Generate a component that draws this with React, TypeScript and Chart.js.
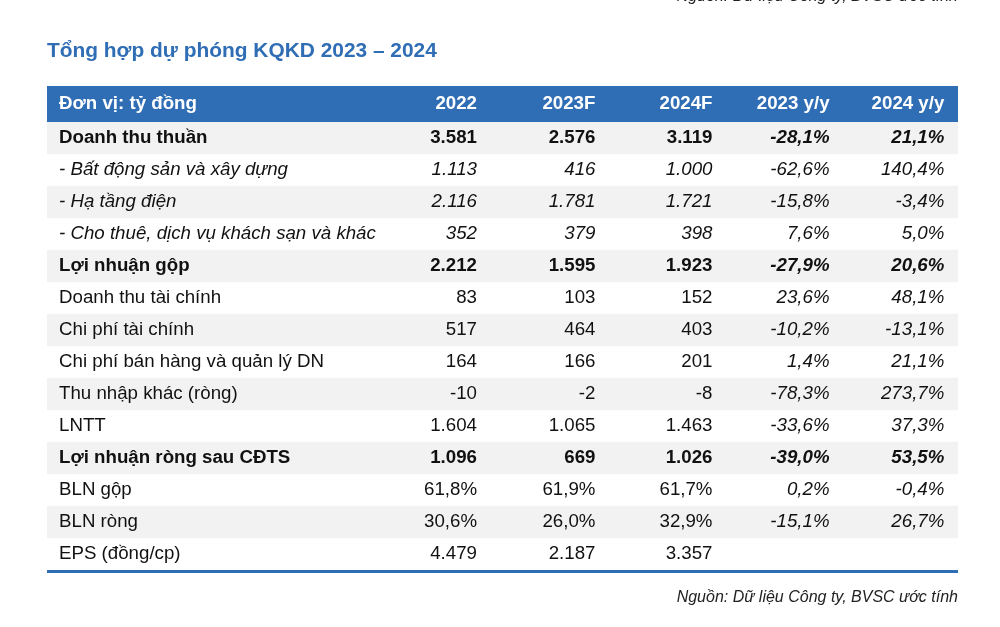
import React, { useEffect, useRef } from 'react';
import { Chart, registerables } from 'chart.js';

Chart.register(...registerables);

const titleText = 'Tổng hợp dự phóng KQKD 2023 – 2024';
const sourceText = 'Nguồn: Dữ liệu Công ty, BVSC ước tính';
const unitLabel = 'Đơn vị: tỷ đồng';
const columnHeaders = ['2022', '2023F', '2024F', '2023 y/y', '2024 y/y'];

const rowLabels = [
  'Doanh thu thuần',
  '- Bất động sản và xây dựng',
  '- Hạ tầng điện',
  '- Cho thuê, dịch vụ khách sạn và khác',
  'Lợi nhuận gộp',
  'Doanh thu tài chính',
  'Chi phí tài chính',
  'Chi phí bán hàng và quản lý DN',
  'Thu nhập khác (ròng)',
  'LNTT',
  'Lợi nhuận ròng sau CĐTS',
  'BLN gộp',
  'BLN ròng',
  'EPS (đồng/cp)',
];

const values2022 = [3581, 1113, 2116, 352, 2212, 83, 517, 164, -10, 1604, 1096, 61.8, 30.6, 4479];
const values2023F = [2576, 416, 1781, 379, 1595, 103, 464, 166, -2, 1065, 669, 61.9, 26.0, 2187];
const values2024F = [3119, 1000, 1721, 398, 1923, 152, 403, 201, -8, 1463, 1026, 61.7, 32.9, 3357];
const yoy2023 = [-28.1, -62.6, -15.8, 7.6, -27.9, 23.6, -10.2, 1.4, -78.3, -33.6, -39.0, 0.2, -15.1, null];
const yoy2024 = [21.1, 140.4, -3.4, 5.0, 20.6, 48.1, -13.1, 21.1, 273.7, 37.3, 53.5, -0.4, 26.7, null];

const boldRows = [0, 4, 10];
const italicRows = [1, 2, 3];
const percentRows = [11, 12];

const BLUE = '#2F6DB5';
const TITLE_BLUE = '#2F6DB5';
const STRIPE = '#F2F2F2';
const TEXT = '#111111';
const FAMILY = '"Liberation Sans", Arial, Helvetica, sans-serif';
const FS = '18.7px';

function fmtInt(v: number): string {
  const s = Math.abs(Math.round(v)).toString().replace(/\B(?=(\d{3})+(?!\d))/g, '.');
  return (v < 0 ? '-' : '') + s;
}
function fmtPct(v: number | null): string {
  if (v === null || v === undefined) return '';
  return v.toFixed(1).replace('.', ',') + '%';
}

// column anchor positions on the x scale (0..100 = table width)
const labelX = 1.32;
const colRightX = [47.2, 60.2, 73.05, 85.9, 98.5];

export default function App() {
  const ref = useRef<HTMLCanvasElement | null>(null);

  useEffect(() => {
    const canvas = ref.current;
    if (!canvas) return;

    const tablePlugin = {
      id: 'tableText',
      afterDatasetsDraw(chart: any) {
        const ctx = chart.ctx as CanvasRenderingContext2D;
        const xs = chart.scales.x;
        const ys = chart.scales.y;
        const area = chart.chartArea;
        const rowH = ys.getPixelForValue(1) - ys.getPixelForValue(0);
        const headerH = rowH * 1.125;
        const left = xs.getPixelForValue(0);
        const right = xs.getPixelForValue(100);
        ctx.save();

        // header band
        ctx.fillStyle = BLUE;
        ctx.fillRect(left, area.top - headerH, right - left, headerH);
        const hy = area.top - headerH / 2;
        ctx.fillStyle = '#FFFFFF';
        ctx.textBaseline = 'middle';
        ctx.font = `bold ${FS} ${FAMILY}`;
        ctx.textAlign = 'left';
        ctx.fillText(unitLabel, xs.getPixelForValue(labelX), hy);
        ctx.textAlign = 'right';
        columnHeaders.forEach((h, i) => {
          ctx.fillText(h, xs.getPixelForValue(colRightX[i]), hy);
        });

        // rows
        rowLabels.forEach((label, r) => {
          const y = ys.getPixelForValue(r);
          const bold = boldRows.includes(r);
          const italic = italicRows.includes(r);
          const weight = bold ? 'bold ' : '';
          const baseStyle = italic ? 'italic ' : '';
          ctx.fillStyle = TEXT;
          ctx.textAlign = 'left';
          ctx.font = `${baseStyle}${weight}${FS} ${FAMILY}`;
          ctx.fillText(label, xs.getPixelForValue(labelX), y);
          const isPct = percentRows.includes(r);
          const vals = [values2022[r], values2023F[r], values2024F[r]];
          ctx.textAlign = 'right';
          vals.forEach((v, c) => {
            const s = isPct ? fmtPct(v) : fmtInt(v);
            ctx.fillText(s, xs.getPixelForValue(colRightX[c]), y);
          });
          ctx.font = `italic ${weight}${FS} ${FAMILY}`;
          ctx.fillText(fmtPct(yoy2023[r]), xs.getPixelForValue(colRightX[3]), y);
          ctx.fillText(fmtPct(yoy2024[r]), xs.getPixelForValue(colRightX[4]), y);
        });

        // bottom rule
        ctx.fillStyle = BLUE;
        ctx.fillRect(left, area.bottom, right - left, 3);

        // title
        ctx.fillStyle = TITLE_BLUE;
        ctx.textAlign = 'left';
        ctx.textBaseline = 'alphabetic';
        ctx.font = `bold 20.9px ${FAMILY}`;
        ctx.fillText(titleText, left, 57);

        // source (bottom) and cut-off source at top
        ctx.fillStyle = '#222222';
        ctx.textAlign = 'right';
        ctx.font = `italic 16px ${FAMILY}`;
        ctx.fillText(sourceText, right, area.bottom + 32);
        ctx.fillText(sourceText, right, 0.5);
        ctx.restore();
      },
    };

    const chart = new Chart(canvas, {
      type: 'bar',
      data: {
        labels: rowLabels,
        datasets: [
          {
            label: 'stripes',
            data: rowLabels.map((_, i) => (i % 2 === 0 ? [0, 100] : null)) as any,
            backgroundColor: STRIPE,
            borderWidth: 0,
            barPercentage: 1,
            categoryPercentage: 1,
          },
        ],
      },
      options: {
        indexAxis: 'y',
        responsive: false,
        animation: false,
        maintainAspectRatio: false,
        layout: { padding: { top: 122, bottom: 57, left: 47, right: 42 } },
        scales: {
          x: { type: 'linear', min: 0, max: 100, display: false },
          y: { type: 'category', display: false, offset: true },
        },
        plugins: {
          legend: { display: false },
          tooltip: { enabled: false },
          title: { display: false },
        },
        events: [],
      },
      plugins: [tablePlugin],
    });

    return () => chart.destroy();
  }, []);

  return (
    <div style={{ position: 'absolute', left: 0, top: 0, width: 1000, height: 627, background: '#fff' }}>
      <canvas ref={ref} width={1000} height={627} />
    </div>
  );
}
